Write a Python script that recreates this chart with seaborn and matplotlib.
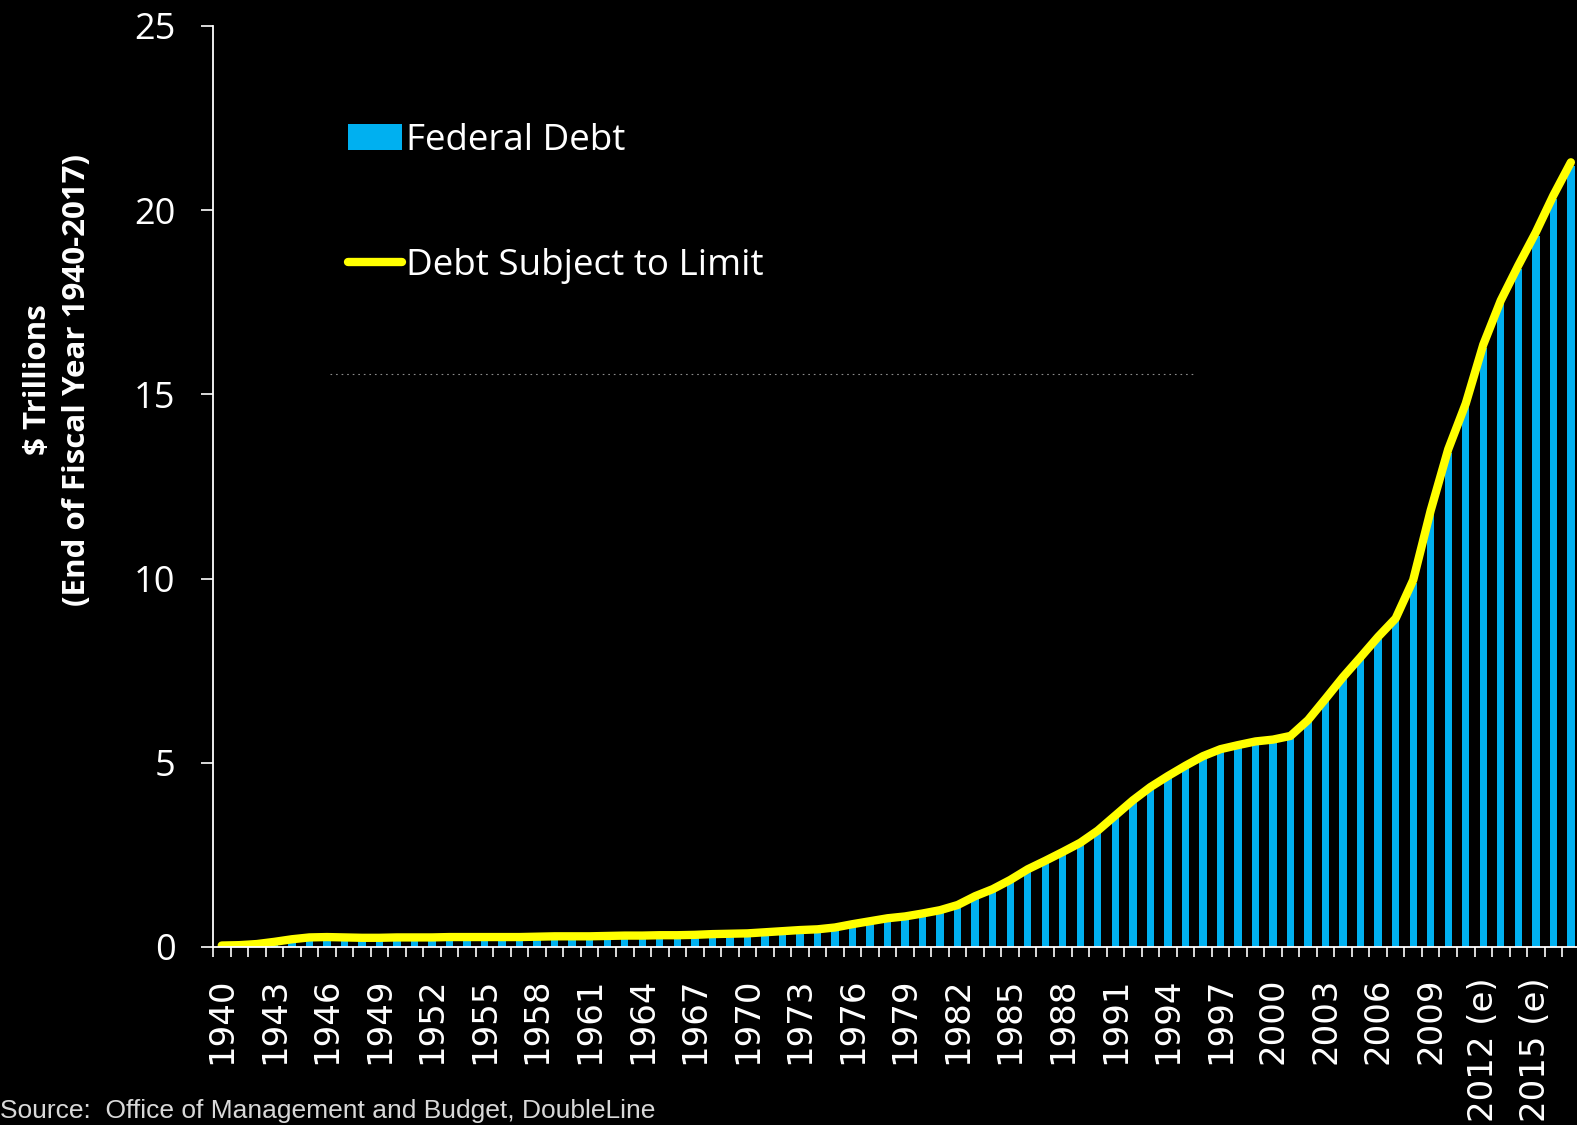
import numpy as np
import pandas as pd
import matplotlib
matplotlib.use("Agg")
import matplotlib.pyplot as plt
from matplotlib.ticker import FixedLocator, NullFormatter
import seaborn as sns

# Fiscal years 1940-2017; 2012 onward are estimates
years = list(range(1940, 2018))
year_labels = [f"{y} (e)" if y >= 2012 else str(y) for y in years]

# Federal debt (bars), $ trillions, end of fiscal year
federal_debt = [
    0.04, 0.05, 0.07, 0.13, 0.20, 0.25, 0.26, 0.25, 0.24, 0.24,
    0.25, 0.25, 0.25, 0.26, 0.26, 0.26, 0.26, 0.26, 0.27, 0.28,
    0.28, 0.28, 0.29, 0.30, 0.30, 0.31, 0.31, 0.32, 0.34, 0.35,
    0.36, 0.39, 0.42, 0.45, 0.47, 0.52, 0.60, 0.68, 0.76, 0.81,
    0.89, 0.98, 1.11, 1.35, 1.54, 1.79, 2.08, 2.31, 2.55, 2.80,
    3.13, 3.54, 3.95, 4.31, 4.61, 4.89, 5.15, 5.34, 5.45, 5.55,
    5.60, 5.70, 6.12, 6.70, 7.28, 7.82, 8.37, 8.86, 9.88, 11.75,
    13.40, 14.65, 16.25, 17.45, 18.40, 19.30, 20.30, 21.20,
]

# Debt subject to statutory limit (line), $ trillions
debt_subject_to_limit = [
    0.04, 0.05, 0.08, 0.14, 0.21, 0.26, 0.27, 0.26, 0.25, 0.25,
    0.26, 0.26, 0.26, 0.27, 0.27, 0.27, 0.27, 0.27, 0.28, 0.29,
    0.29, 0.29, 0.30, 0.31, 0.31, 0.32, 0.32, 0.33, 0.35, 0.36,
    0.37, 0.40, 0.43, 0.46, 0.48, 0.53, 0.62, 0.70, 0.78, 0.83,
    0.91, 1.00, 1.14, 1.38, 1.57, 1.82, 2.11, 2.34, 2.58, 2.83,
    3.16, 3.57, 3.98, 4.34, 4.64, 4.92, 5.18, 5.37, 5.48, 5.58,
    5.63, 5.73, 6.16, 6.74, 7.33, 7.87, 8.42, 8.92, 9.96, 11.85,
    13.51, 14.75, 16.35, 17.55, 18.50, 19.40, 20.40, 21.30,
]

y_ticks = [0, 5, 10, 15, 20, 25]

df = pd.DataFrame({
    "year": year_labels,
    "federal_debt": federal_debt,
    "limit_debt": debt_subject_to_limit,
    "pos": np.arange(len(years)),
})

BLUE = "#00B0F0"
YELLOW = "#FFFF00"

sns.set_theme(style="white")
plt.rcParams.update({
    "figure.facecolor": "black",
    "axes.facecolor": "black",
    "savefig.facecolor": "black",
    "text.color": "white",
    "axes.edgecolor": "white",
    "xtick.color": "white",
    "ytick.color": "white",
})

fig = plt.figure(figsize=(15.77, 11.25), dpi=100)
ax = fig.add_axes([213 / 1577, 1 - 947 / 1125, 1 - 213 / 1577, (947 - 26) / 1125])

sns.barplot(data=df, x="year", y="federal_debt", color=BLUE, width=0.42,
            saturation=1, ax=ax, label="Federal Debt", order=year_labels,
            edgecolor="none", linewidth=0)
sns.lineplot(data=df, x="pos", y="limit_debt", color=YELLOW, linewidth=6,
             ax=ax, label="Debt Subject to Limit")
ax.lines[-1].set_solid_capstyle("round")

ax.set_xlim(-0.5, 77.35)
ax.set_ylim(0, 25)
ax.set_xlabel("")
ax.set_ylabel("$ Trillions\n(End of Fiscal Year 1940-2017)", fontsize=22.5,
              fontweight="bold", family=["Open Sans", "DejaVu Sans"],
              color="white", linespacing=1.4)
ax.yaxis.set_label_coords(-0.0887, 0.616)

for side in ("top", "right"):
    ax.spines[side].set_visible(False)
for side in ("left", "bottom"):
    ax.spines[side].set_color("white")
    ax.spines[side].set_linewidth(1.3)

# x axis: labels every third year at bar centres, tick marks between bars
label_pos = list(range(0, len(years), 3))
ax.xaxis.set_major_locator(FixedLocator(label_pos))
ax.set_xticklabels([year_labels[i] for i in label_pos], rotation=90,
                   fontsize=24.5, family="DejaVu Sans", color="white")
ax.xaxis.set_minor_locator(FixedLocator(np.arange(-0.5, len(years), 1.0)))
ax.xaxis.set_minor_formatter(NullFormatter())
ax.tick_params(axis="x", which="major", length=0, pad=22, bottom=True)
ax.tick_params(axis="x", which="minor", length=7.5, width=1.2,
               color="white", bottom=True, direction="out")

ax.set_yticks(y_ticks)
ax.set_yticklabels([str(v) for v in y_ticks], fontsize=26,
                   family=["Open Sans", "DejaVu Sans"], color="white")
ax.tick_params(axis="y", length=9, width=1.2, pad=18, left=True,
               direction="out")

handles, labels = ax.get_legend_handles_labels()
order = [labels.index("Federal Debt"), labels.index("Debt Subject to Limit")]
leg = ax.legend([handles[i] for i in order], [labels[i] for i in order],
                loc="upper left", bbox_to_anchor=(0.0857, 0.915), frameon=False,
                prop={"family": "Open Sans", "size": 26.5},
                handlelength=1.45, handleheight=0.7, handletextpad=0.12,
                labelspacing=2.42, borderpad=0)
for t in leg.get_texts():
    t.set_color("white")

# faint dotted rule across the upper plot area
ax.plot([0.086, 0.72], [0.622, 0.622], transform=ax.transAxes, color="white",
        linewidth=0.8, alpha=0.55, linestyle=(0, (1.5, 3.5)))

fig.text(0.0, 0.0065, "Source:  Office of Management and Budget, DoubleLine",
         fontsize=19, family=["Liberation Sans Narrow", "Liberation Sans"],
         color="#d9d9d9", ha="left", va="baseline")

fig.savefig("out.png", dpi=100, facecolor="black")
